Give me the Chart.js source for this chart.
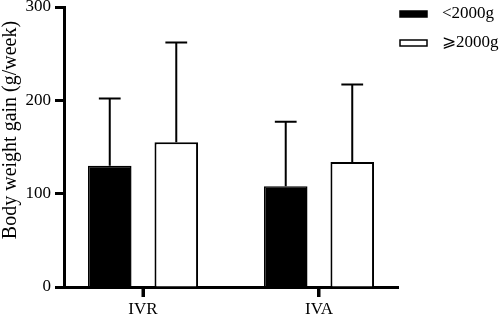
<!doctype html>
<html lang="en">
  <head>
    <meta charset="utf-8">
    <title>Body weight gain</title>
    <script src="https://cdn.jsdelivr.net/npm/chart.js"></script>
    <style>
      body { margin: 0; background: #fff; }
    </style>
  </head>
  <body>
    <canvas id="chart" width="500" height="318"></canvas>

    <script>
    // data
    const categories = ['IVR', 'IVA'];
    const seriesNames = ['<2000g', '\u2A7E2000g'];
    const meanLow = [130, 108];
    const sdLow = [72, 69];
    const meanHigh = [155, 134];
    const sdHigh = [107, 83];
    const yTicks = [0, 100, 200, 300];

    const serif = "'Liberation Serif', 'Times New Roman', 'DejaVu Serif', serif";

    // categories sit at x = 1, 2 on a linear axis so the axis can run a bit past them
    const toPoints = (vals) => vals.map((v, i) => ({ x: i + 1, y: v }));

    // error bars (upper only, like GraphPad)
    const errorBars = {
      id: 'errorBars',
      afterDatasetsDraw(chart) {
        const ctx = chart.ctx;
        const yScale = chart.scales.y;
        ctx.save();
        ctx.strokeStyle = '#000';
        ctx.lineWidth = 2;
        chart.data.datasets.forEach((ds, di) => {
          const meta = chart.getDatasetMeta(di);
          meta.data.forEach((bar, i) => {
            const top = yScale.getPixelForValue(ds.data[i].y + ds.sd[i]);
            const half = bar.width / 4;
            ctx.beginPath();
            ctx.moveTo(bar.x, bar.y);
            ctx.lineTo(bar.x, top);
            ctx.moveTo(bar.x - half, top);
            ctx.lineTo(bar.x + half, top);
            ctx.stroke();
          });
        });
        ctx.restore();
      }
    };

    // category tick marks hanging under the x axis
    const catTicks = {
      id: 'catTicks',
      afterDraw(chart) {
        const ctx = chart.ctx;
        const xs = chart.scales.x;
        ctx.save();
        ctx.fillStyle = '#000';
        categories.forEach((c, i) => {
          const px = xs.getPixelForValue(i + 1);
          ctx.fillRect(Math.round(px) - 1.5, xs.top, 3, 10);
        });
        ctx.restore();
      }
    };

    // y title, drawn a little above the axis middle as in the original
    const yTitle = {
      id: 'yTitle',
      afterDraw(chart) {
        const ctx = chart.ctx;
        ctx.save();
        ctx.translate(11, 130);
        ctx.rotate(-Math.PI / 2);
        ctx.fillStyle = '#000';
        ctx.font = '20px ' + serif;
        ctx.textAlign = 'center';
        ctx.textBaseline = 'middle';
        ctx.fillText('Body weight gain (g/week)', 0, 0);
        ctx.restore();
      }
    };

    // legend top right: wide flat boxes
    const boxLegend = {
      id: 'boxLegend',
      afterDraw(chart) {
        const ctx = chart.ctx;
        ctx.save();
        ctx.font = '17px ' + serif;
        ctx.textBaseline = 'middle';
        chart.data.datasets.forEach((ds, i) => {
          const y = 14 + i * 29;
          ctx.fillStyle = ds.backgroundColor;
          ctx.fillRect(400, y - 3, 27, 6);
          ctx.strokeStyle = '#000';
          ctx.lineWidth = 1.5;
          ctx.strokeRect(400, y - 3, 27, 6);
          ctx.fillStyle = '#000';
          ctx.fillText(ds.label, 442, y);
        });
        ctx.restore();
      }
    };

    new Chart(document.getElementById('chart'), {
      type: 'bar',
      data: {
        datasets: [{
          label: seriesNames[0],
          data: toPoints(meanLow),
          sd: sdLow,
          backgroundColor: '#000',
          borderColor: '#000',
          borderWidth: 1.5
        }, {
          label: seriesNames[1],
          data: toPoints(meanHigh),
          sd: sdHigh,
          backgroundColor: '#fff',
          borderColor: '#000',
          borderWidth: 2
        }]
      },
      options: {
        responsive: false,
        animation: false,
        categoryPercentage: 0.756,
        barPercentage: 0.655,
        layout: { padding: { top: 7, right: 102, left: 0, bottom: 0 } },
        plugins: {
          legend: { display: false },
          tooltip: { enabled: false }
        },
        scales: {
          x: {
            type: 'linear',
            min: 0.551,
            max: 2.449,
            offset: false,
            afterFit(scale) {
              scale.height = 31;
              scale.paddingLeft = 0;
              scale.paddingRight = 0;
            },
            afterBuildTicks(scale) {
              scale.ticks = categories.map((c, i) => ({ value: i + 1 }));
            },
            border: { display: true, color: '#000', width: 3 },
            grid: {
              offset: false,
              drawOnChartArea: false,
              drawTicks: true,
              tickLength: 10,
              tickWidth: 3,
              tickColor: '#000'
            },
            ticks: {
              autoSkip: false,
              maxRotation: 0,
              padding: 2,
              color: '#000',
              font: { family: serif, size: 17 },
              callback: (v) => categories[Math.round(v) - 1]
            }
          },
          y: {
            min: 0,
            max: 300,
            afterFit(scale) {
              scale.width = 64;
              scale.paddingTop = 0;
              scale.paddingBottom = 0;
            },
            afterBuildTicks(scale) {
              scale.ticks = yTicks.map(v => ({ value: v }));
            },
            border: { display: true, color: '#000', width: 3 },
            grid: {
              drawOnChartArea: false,
              drawTicks: true,
              tickLength: 9,
              tickWidth: 3,
              tickColor: '#000'
            },
            ticks: {
              padding: 4,
              color: '#000',
              font: { family: serif, size: 17 }
            }
          }
        }
      },
      plugins: [errorBars, catTicks, yTitle, boxLegend]
    });
    </script>
  </body>
</html>
